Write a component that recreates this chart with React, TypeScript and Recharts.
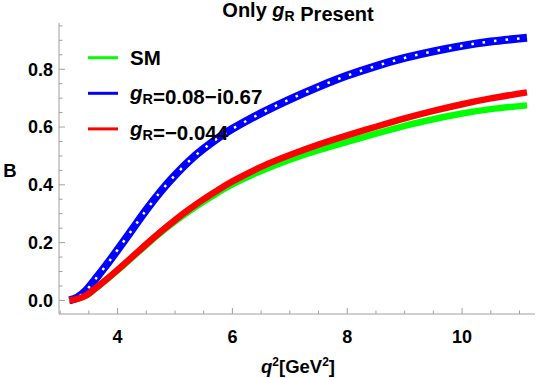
import { Line, LineChart, XAxis, YAxis } from "recharts";

// q^2 grid in GeV^2, from the kinematic threshold up to the endpoint
const q2 = [3.16, 3.3, 3.45, 3.6, 3.8, 4.0, 4.25, 4.5, 4.75, 5.0, 5.25, 5.5, 5.75, 6.0, 6.5, 7.0, 7.5, 8.0, 8.5, 9.0, 9.5, 10.0, 10.5, 11.13];

// B(q^2) for the Standard Model and the two g_R benchmark points
const smB = [0, 0.005, 0.017, 0.039, 0.071, 0.104, 0.148, 0.192, 0.234, 0.273, 0.309, 0.342, 0.373, 0.402, 0.448, 0.487, 0.52, 0.549, 0.577, 0.604, 0.627, 0.647, 0.662, 0.675];
const gRComplexB = [0, 0.01, 0.034, 0.07, 0.121, 0.175, 0.244, 0.313, 0.377, 0.433, 0.483, 0.525, 0.562, 0.594, 0.648, 0.696, 0.739, 0.778, 0.811, 0.839, 0.862, 0.881, 0.896, 0.909];
const gRRealB = [0, 0.005, 0.017, 0.0395, 0.0715, 0.1055, 0.15, 0.1945, 0.2375, 0.278, 0.3155, 0.3505, 0.3825, 0.412, 0.462, 0.503, 0.539, 0.571, 0.601, 0.63, 0.656, 0.679, 0.699, 0.72];

const xTicks = [3, 3.5, 4, 4.5, 5, 5.5, 6, 6.5, 7, 7.5, 8, 8.5, 9, 9.5, 10, 10.5, 11];
const xLabels = [4, 6, 8, 10];
const yTicks = [0, 0.05, 0.1, 0.15, 0.2, 0.25, 0.3, 0.35, 0.4, 0.45, 0.5, 0.55, 0.6, 0.65, 0.7, 0.75, 0.8, 0.85, 0.9, 0.95];
const yLabels = [0, 0.2, 0.4, 0.6, 0.8];

const legendValues = ["SM", "0.08\u2212i0.67", "\u22120.044"];
const legendColors = ["#00ff00", "#0000ff", "#ff0000"];

const rows = q2.map((q, i) => ({ q, sm: smB[i], gc: gRComplexB[i], gr: gRRealB[i] }));

const W = 538;
const H = 378;
const FONT = "'Liberation Sans', Arial, sans-serif";
const FRAME = "#a0a0a0";

const BottomTick = ({ x, y, payload }: any) => {
  const major = xLabels.includes(payload.value);
  return (
    <g>
      <line x1={x} x2={x} y1={y} y2={y - (major ? 6 : 3.5)} stroke={FRAME} />
      {major && (
        <text x={x} y={y + 29} textAnchor="middle" fontFamily={FONT} fontWeight="bold" fontSize={18} fill="#000">
          {payload.value}
        </text>
      )}
    </g>
  );
};

const TopTick = ({ x, y, payload }: any) => {
  const major = xLabels.includes(payload.value);
  return <line x1={x} x2={x} y1={y} y2={y + (major ? 6 : 3.5)} stroke={FRAME} />;
};

const LeftTick = ({ x, y, payload }: any) => {
  const major = yLabels.includes(payload.value);
  return (
    <g>
      <line x1={x} x2={x + (major ? 6 : 3.5)} y1={y} y2={y} stroke={FRAME} />
      {major && (
        <text x={x - 6} y={y + 6.3} textAnchor="end" fontFamily={FONT} fontWeight="bold" fontSize={18} fill="#000">
          {payload.value.toFixed(1)}
        </text>
      )}
    </g>
  );
};

const RightTick = ({ x, y, payload }: any) => {
  const major = yLabels.includes(payload.value);
  return <line x1={x} x2={x - (major ? 6 : 3.5)} y1={y} y2={y} stroke={FRAME} />;
};

const GR = ({ size }: { size: number }) => (
  <>
    <tspan fontStyle="italic">g</tspan>
    <tspan fontSize={size * 0.7} dy={4}>R</tspan>
    <tspan dy={-4} />
  </>
);

export default function App() {
  return (
    <div style={{ position: "absolute", left: 0, top: 0, width: W, height: H, background: "#fff" }}>
      <LineChart width={W} height={H} data={rows} margin={{ top: 23, right: 3, bottom: 0, left: 0 }}>
        <XAxis
          xAxisId="bottom"
          dataKey="q"
          type="number"
          domain={[2.98, 11.27]}
          allowDataOverflow
          ticks={xTicks}
          interval={0}
          height={64}
          stroke={FRAME}
          tickSize={0}
          tickMargin={0}
          tick={BottomTick}
        />
        <XAxis
          xAxisId="top"
          orientation="top"
          dataKey="q"
          type="number"
          domain={[2.98, 11.27]}
          allowDataOverflow
          ticks={xTicks}
          interval={0}
          height={0}
          stroke={FRAME}
          tickSize={0}
          tickMargin={0}
          tick={TopTick}
        />
        <YAxis
          yAxisId="left"
          type="number"
          domain={[-0.047, 0.96]}
          allowDataOverflow
          ticks={yTicks}
          interval={0}
          width={59}
          stroke={FRAME}
          tickSize={0}
          tickMargin={0}
          tick={LeftTick}
        />
        <YAxis
          yAxisId="right"
          orientation="right"
          type="number"
          domain={[-0.047, 0.96]}
          allowDataOverflow
          ticks={yTicks}
          interval={0}
          width={0}
          stroke={FRAME}
          tickSize={0}
          tickMargin={0}
          tick={RightTick}
        />
        <Line xAxisId="bottom" yAxisId="left" dataKey="sm" type="natural" stroke="#00ff00" strokeWidth={6.5} dot={false} isAnimationActive={false} />
        <Line xAxisId="bottom" yAxisId="left" dataKey="gc" type="natural" stroke="#0000ff" strokeWidth={8} dot={false} isAnimationActive={false} />
        <Line xAxisId="bottom" yAxisId="left" dataKey="gc" type="natural" stroke="#ffffff" strokeWidth={2.5} strokeDasharray="2.5 9" dot={false} legendType="none" isAnimationActive={false} />
        <Line xAxisId="bottom" yAxisId="left" dataKey="gr" type="natural" stroke="#ff0000" strokeWidth={6.5} dot={false} isAnimationActive={false} />
      </LineChart>
      <svg width={W} height={H} style={{ position: "absolute", left: 0, top: 0, pointerEvents: "none" }} fontFamily={FONT} fontWeight="bold">
        <text x={298} y={17} textAnchor="middle" fontSize={20}>
          Only <GR size={20} /> Present
        </text>
        <text x={10} y={177} textAnchor="middle" fontSize={18.5}>B</text>
        <text x={298} y={373} textAnchor="middle" fontSize={18.5}>
          <tspan fontStyle="italic">q</tspan>
          <tspan fontSize={12} dy={-7}>2</tspan>
          <tspan dy={7}>[GeV</tspan>
          <tspan fontSize={12} dy={-7}>2</tspan>
          <tspan dy={7}>]</tspan>
        </text>
        {legendValues.map((v, i) => {
          const cy = 57.7 + i * 35.6;
          return (
            <g key={v}>
              <line x1={88} x2={118} y1={cy} y2={cy} stroke={legendColors[i]} strokeWidth={3} />
              <text x={130} y={cy + 7} fontSize={20.5}>
                {i === 0 ? v : (
                  <>
                    <GR size={20.5} />={v}
                  </>
                )}
              </text>
            </g>
          );
        })}
      </svg>
    </div>
  );
}
